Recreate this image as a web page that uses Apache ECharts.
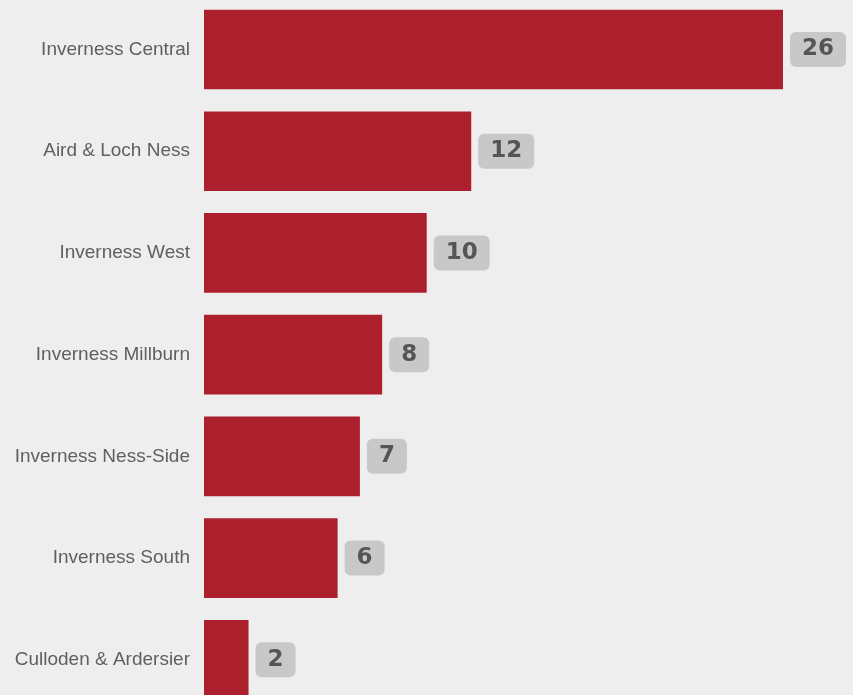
<!DOCTYPE html>
<html>
<head>
<meta charset="utf-8">
<style>
html,body{margin:0;padding:0;background:#eeeeee;overflow:hidden;width:853px;height:695px;position:relative;}
#chart{position:absolute;left:0;top:-20px;width:853px;height:760px;}
</style>
<script src="https://cdn.jsdelivr.net/npm/echarts@6/dist/echarts.min.js"></script>
</head>
<body>
<div id="chart"></div>
<script>
const categories = ["Inverness Central","Aird & Loch Ness","Inverness West","Inverness Millburn","Inverness Ness-Side","Inverness South","Culloden & Ardersier"];
const values = [26,12,10,8,7,6,2];

const chart = echarts.init(document.getElementById('chart'));
chart.setOption({
  backgroundColor: '#eeeeee',
  animation: false,
  grid: {left: 204, width: 579, top: 18.64, height: 712, containLabel: false},
  xAxis: {
    type: 'value', min: 0, max: 26, show: false
  },
  yAxis: {
    type: 'category', data: categories, inverse: true,
    axisLine: {show: false}, axisTick: {show: false}, splitLine: {show: false},
    axisLabel: {margin: 14, fontSize: 19, color: '#5f5f5f', fontFamily: 'Liberation Sans, Arial, sans-serif'}
  },
  series: [{
    type: 'bar', data: values, barCategoryGap: '21.7%',
    itemStyle: {color: '#ac1f2d'},
    label: {
      show: true, position: 'right', distance: 7,
      fontFamily: 'DejaVu Sans, Verdana, sans-serif', fontWeight: 'bold', fontSize: 23,
      lineHeight: 23, color: '#555555', backgroundColor: '#c8c8c8',
      borderRadius: 6, padding: [7, 12, 5, 12]
    }
  }]
});
</script>
</body>
</html>
